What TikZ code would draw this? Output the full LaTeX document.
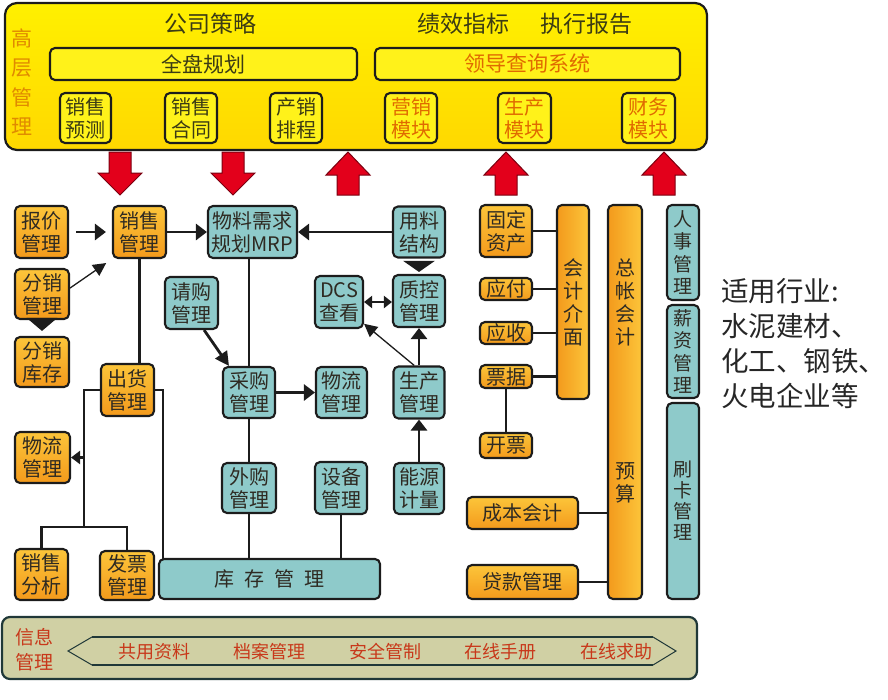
\documentclass[tikz,border=0pt]{standalone}
\usepackage{fontspec}
\setmainfont{Noto Sans CJK SC}
\usetikzlibrary{arrows.meta,calc}
\definecolor{yelT}{HTML}{FFF000}
\definecolor{yelM}{HTML}{FFD800}
\definecolor{yelB}{HTML}{FFF21A}
\definecolor{orA}{HTML}{FCC53A}
\definecolor{orB}{HTML}{F39A1C}
\definecolor{tealC}{HTML}{8ECACA}
\definecolor{lineC}{HTML}{1C1C1C}
\definecolor{txtD}{HTML}{2E2A22}
\definecolor{txtO}{HTML}{E06A00}
\definecolor{txtOl}{HTML}{3C3C14}
\definecolor{gcO}{HTML}{E08A00}
\definecolor{redA}{HTML}{E3001B}
\definecolor{redE}{HTML}{7A0010}
\definecolor{khaki}{HTML}{D0D0A4}
\definecolor{khE}{HTML}{203838}
\definecolor{redT}{HTML}{C8381A}
\newcommand\bxfont{\fontsize{20}{23}\selectfont}
\newcommand\gapc{\hspace{0.5em}}
\newcommand\downarr[1]{\path[redarr] (#1,152) ++(-11,0) -- ++(22,0) -- ++(0,21) -- ++(11,0) -- ++(-22,22) -- ++(-22,-22) -- ++(11,0) -- cycle;}
\newcommand\uparr[1]{\path[redarr] (#1,152) -- ++(22,23) -- ++(-11,0) -- ++(0,20) -- ++(-22,0) -- ++(0,-20) -- ++(-11,0) -- cycle;}
\tikzset{
  sz/.style 2 args={minimum width=#1pt, minimum height=#2pt},
  bx/.style={draw=lineC, line width=2.1pt, rounded corners=5pt, inner sep=0pt, align=center, font=\bxfont, text=txtD},
  ob/.style={bx, top color=orA, bottom color=orB},
  tb/.style={bx, fill=tealC},
  yb/.style={bx, fill=yelB},
  cn/.style={line width=2.8pt, draw=lineC},
  arr/.style={cn, -{Triangle[length=11pt,width=16pt]}},
  thinarr/.style={line width=1.3pt, draw=lineC, -{Triangle[length=13pt,width=13pt]}},
  redarr/.style={fill=redA, draw=redE, line width=1pt},
  ttl/.style={font=\fontsize{23}{27}\selectfont, text=txtOl, inner sep=0pt},
  btxt/.style={font=\fontsize{18}{22}\selectfont, text=redT, inner sep=0pt},
}
\begin{document}
\begin{tikzpicture}[x=1pt,y=-1pt]
\useasboundingbox (0,0) rectangle (888,699);
% ---------- top management panel
\node[draw=lineC, line width=2.2pt, rounded corners=12pt, top color=yelT, bottom color=yelM, sz={702}{147}] (top) at (356,76.5) {};
\node[ttl] (t1) at (210,24) {公司策略};
\node[ttl] (t2) at (463,24) {绩效指标};
\node[ttl] (t3) at (586,24) {执行报告};
\node[font=\fontsize{21}{29.3}\selectfont, text=gcO, align=center, inner sep=0pt] (gc) at (22,82) {高\\层\\管\\理};
\node[yb, sz={307}{32}, font=\fontsize{21}{25}\selectfont, text=txtOl] (qp) at (203.5,64) {全盘规划};
\node[yb, sz={305}{32}, font=\fontsize{21}{25}\selectfont, text=txtO] (ld) at (527.5,64) {领导查询系统};
\node[yb, sz={51}{50}, text=txtOl] (sp) at (85.5,118) {销售\\预测};
\node[yb, sz={52}{50}, text=txtOl] (sh) at (191,118) {销售\\合同};
\node[yb, sz={52}{50}, text=txtOl] (cx) at (296,118) {产销\\排程};
\node[yb, sz={52}{50}, text=txtO] (yx) at (411,118) {营销\\模块};
\node[yb, sz={53}{50}, text=txtO] (scm) at (524.5,118) {生产\\模块};
\node[yb, sz={53}{50}, text=txtO] (cw) at (648.5,118) {财务\\模块};
% ---------- red block arrows
\downarr{120}
\downarr{233}
\uparr{348}
\uparr{506}
\uparr{664}
% ---------- left (sales) part
\node[ob, sz={53}{52}] (bj) at (41.5,232) {报价\\管理};
\node[ob, sz={54}{50}] (fx) at (42,294) {分销\\管理};
\node[ob, sz={54}{50}] (fxkc) at (42,362) {分销\\库存};
\node[ob, sz={53}{52}] (xs) at (139.5,232) {销售\\管理};
\node[ob, sz={53}{52}] (ch) at (127.5,390) {出货\\管理};
\node[ob, sz={55}{51}] (wl1) at (42.5,457.5) {物流\\管理};
\node[ob, sz={53}{51}] (xsfx) at (41.5,574.5) {销售\\分析};
\node[ob, sz={54}{49}] (fp) at (127,575.5) {发票\\管理};
% ---------- middle (production) part
\node[tb, sz={89}{52}] (mrp) at (252.5,232) {物料需求\\规划MRP};
\node[tb, sz={52}{51}] (ylj) at (419,232) {用料\\结构};
\node[tb, sz={52}{52}] (zk) at (419,301) {质控\\管理};
\node[tb, sz={48}{52}] (dcs) at (339,302) {DCS\\查看};
\node[tb, sz={53}{52}] (qg) at (191.5,303) {请购\\管理};
\node[tb, sz={52}{51}] (cg) at (249,392.5) {采购\\管理};
\node[tb, sz={51}{51}] (wl2) at (341.5,392.5) {物流\\管理};
\node[tb, sz={51}{52}] (sc2) at (419,392.5) {生产\\管理};
\node[tb, sz={54}{50}] (wg) at (249,488) {外购\\管理};
\node[tb, sz={52}{52}] (sb) at (341,488) {设备\\管理};
\node[tb, sz={50}{51}] (nyjl) at (419,488.5) {能源\\计量};
\node[tb, sz={221}{40}] (kc) at (269.5,579) {库\gapc 存\gapc 管\gapc 理};
% ---------- right (finance / HR) part
\node[ob, sz={52}{52}] (gd) at (506,231) {固定\\资产};
\node[ob, sz={52}{22}] (yf) at (506,289) {应付};
\node[ob, sz={52}{22}] (ys) at (506,333) {应收};
\node[ob, sz={52}{23}] (pj) at (506,376.5) {票据};
\node[ob, sz={52}{25}] (kp) at (506,445.5) {开票};
\node[bx, left color=orB, right color=orA, sz={32}{194}] (kj) at (573,302) {会\\计\\介\\面};
\node[bx, left color=orB, right color=orA, sz={34}{394}] (zz) at (625,402) {};
\node[font=\bxfont, text=txtD, align=center, inner sep=0pt] (zzt) at (625,302) {总\\帐\\会\\计};
\node[font=\bxfont, text=txtD, align=center, inner sep=0pt] (ysu) at (625,483) {预\\算};
\node[ob, sz={111}{32}] (cb) at (522.5,513) {成本会计};
\node[ob, sz={111}{34}] (dk) at (522.5,582) {贷款管理};
\node[tb, sz={32}{95}, font=\fontsize{19}{22.5}\selectfont] (rs) at (683,252.5) {人\\事\\管\\理};
\node[tb, sz={32}{93}, font=\fontsize{19}{22.5}\selectfont] (xz) at (683,351.5) {薪\\资\\管\\理};
\node[tb, sz={32}{196}, font=\fontsize{19}{21}\selectfont] (sk) at (683,501) {刷\\卡\\管\\理};
\node[anchor=north west, inner sep=0pt, align=left, font=\fontsize{27.5}{35}\selectfont, text=black!85] (rt) at (721,278) {适用行业:\\水泥建材、\\化工、钢铁、\\火电企业等};
% ---------- bottom information panel
\node[draw=khE, line width=2.2pt, rounded corners=8pt, fill=khaki, sz={695}{62}] (info) at (349.5,648) {};
\node[font=\fontsize{19}{25}\selectfont, text=redT, align=center, inner sep=0pt] (xx) at (35,650) {信息\\管理};
\draw[line width=1pt, draw=khE] (92,637) -- (68,651) -- (92,665);
\draw[line width=1pt, draw=khE] (653,637) -- (676,651) -- (653,665);
\draw[line width=2.8pt, draw=khE] (92,637) -- (653,637);
\draw[line width=2.8pt, draw=khE] (92,665) -- (653,665);
\node[btxt] (b1) at (154,652) {共用资料};
\node[btxt] (b2) at (269,652) {档案管理};
\node[btxt] (b3) at (385,652) {安全管制};
\node[btxt] (b4) at (500,652) {在线手册};
\node[btxt] (b5) at (616,652) {在线求助};
% ---------- connectors: sales
\draw[arr, shorten <=7pt, shorten >=6pt] (bj) -- (xs);
\draw[thinarr, shorten >=7pt] (fx.12) -- (xs.south west);
\draw[cn, -{Triangle[length=13pt,width=30pt]}, shorten >=5pt] (fx) -- (fxkc);
\draw[arr] (xs) -- (mrp);
\draw[cn] (xs) -- (xs |- ch.north);
\coordinate (j1) at (84,527);
\coordinate (j2) at (163,559);
\draw[cn] (ch.west) -| (j1);
\draw[cn] (xsfx) |- (j1) -| (fp);
\draw[cn, -{Triangle[length=9pt,width=13pt]}] (wl1.east -| j1) -- (wl1.east);
\draw[cn] (ch.east) -| (j2);
% ---------- connectors: production
\draw[arr] (ylj) -- (mrp);
\draw[cn, -{Triangle[length=11pt,width=31pt]}, shorten <=4pt, shorten >=2pt] (ylj) -- (zk);
\draw[cn, {Triangle[length=8pt,width=12pt]}-{Triangle[length=8pt,width=12pt]}] (dcs.east) -- (dcs.east -| zk.west);
\draw[cn, -{Triangle[length=14pt,width=14pt]}] (qg.-65) -- (cg.127);
\draw[cn] (cg.north |- mrp.south) -- (cg.north);
\draw[arr] (cg) -- (wl2);
\draw[arr] (sc2) -- (zk);
\draw[thinarr] (sc2.100) -- (dcs.-41);
\draw[arr] (nyjl) -- (sc2);
\draw[cn] (cg) -- (wg);
\draw[cn] (wg) -- (wg |- kc.north);
\draw[cn] (sb) -- (sb |- kc.north);
% ---------- connectors: finance
\draw[cn] (gd) -- (gd -| kj.west);
\draw[cn] (yf) -- (yf -| kj.west);
\draw[cn] (ys) -- (ys -| kj.west);
\draw[cn] (pj) -- (pj -| kj.west);
\draw[cn] (pj) -- (kp);
\draw[cn] (cb) -- (cb -| zz.west);
\draw[cn] (dk) -- (dk -| zz.west);
\end{tikzpicture}
\end{document}
